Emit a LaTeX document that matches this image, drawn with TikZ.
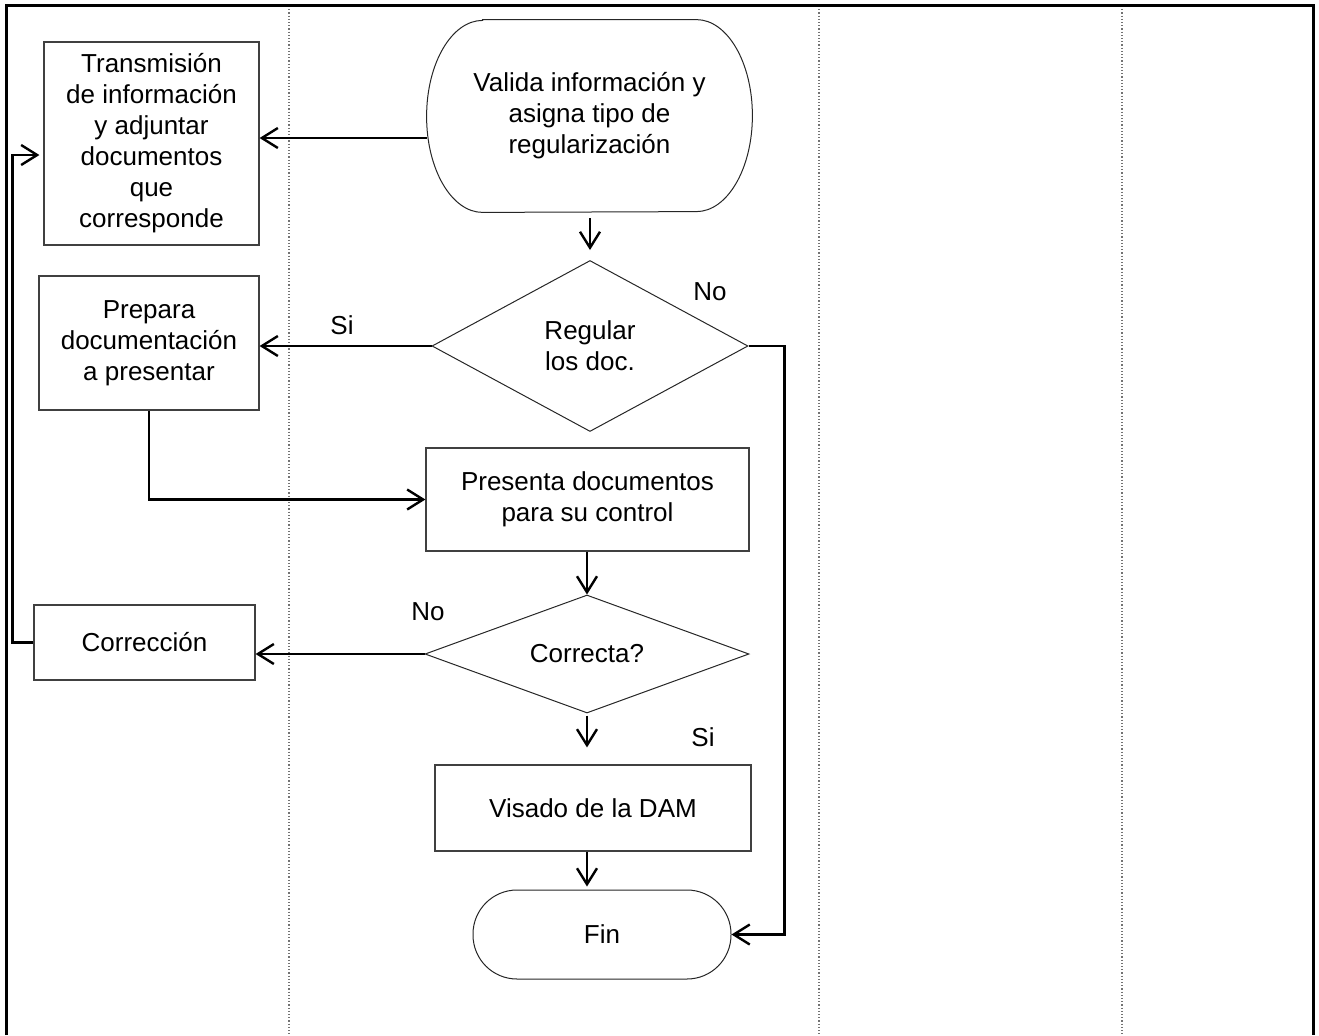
\documentclass[tikz,border=0pt]{standalone}
\usepackage{fontspec}
\setmainfont{Liberation Sans}
\usetikzlibrary{arrows.meta,shapes.geometric,calc}
\begin{document}
\begin{tikzpicture}[x=0.5pt,y=-0.5pt,
  font=\fontsize{13pt}{15.5pt}\selectfont,
  box/.style={draw=black!75, line width=0.6pt, align=center, inner sep=0pt},
  dec/.style={diamond, draw=black!85, line width=0.5pt, align=center, inner sep=0pt},
  term/.style={draw=black!85, line width=0.5pt},
  flow/.style={line width=1.2pt, -{Straight Barb[length=8pt,width=10pt,line width=1.2pt]}},
  lane/.style={densely dotted, line width=0.6pt, black!55},
  lbl/.style={inner sep=0pt}]
\useasboundingbox (0,0) rectangle (1319,1035);
% lanes
\draw[lane] (289,6) -- (289,1035);
\draw[lane] (819,6) -- (819,1035);
\draw[lane] (1122,6) -- (1122,1035);
% frame
\draw[line width=1.5pt] (6,1035) -- (6,5) -- (1313,5) -- (1313,1035);
% nodes
\node[box, minimum width=107.5pt, minimum height=101.5pt] (trans) at (151.5,143.5)
  {Transmisión\\de información\\y adjuntar\\documentos\\que\\corresponde};
\node[minimum width=162.5pt, minimum height=96pt, align=center, inner sep=0pt] (valida) at (589.5,116)
  {Valida información y\\asigna tipo de\\regularización};
\draw[term] ($(valida.north west)+(28pt,0)$) -- ($(valida.north east)+(-28pt,0)$)
  arc[start angle=90,end angle=-90,x radius=28pt,y radius=48pt]
  -- ($(valida.south west)+(28pt,0)$)
  arc[start angle=270,end angle=90,x radius=28pt,y radius=48pt] -- cycle;
\node[dec, aspect=1.85, minimum width=158pt, minimum height=85.5pt] (reg) at (590,346) {Regular\\los doc.};
\node[box, minimum width=110pt, minimum height=67pt] (prep) at (149,343) {Prepara\\documentación\\a presentar};
\node[box, minimum width=161.5pt, minimum height=51.5pt] (pres) at (587.5,499.5) {Presenta documentos\\para su control};
\node[dec, aspect=2.75, minimum width=162pt, minimum height=59pt] (corr) at (587,654) {Correcta?};
\node[box, minimum width=110.5pt, minimum height=37.5pt] (fix) at (144.5,642.5) {Corrección};
\node[box, minimum width=158pt, minimum height=43pt] (vis) at (593,808) {Visado de la DAM};
\node[term, rounded corners=22pt, minimum width=129pt, minimum height=44.5pt] (fin) at (602,934.5) {Fin};
% labels
\node[lbl] (no1) at (710,292) {No};
\node[lbl] (si1) at (342,325) {Si};
\node[lbl] (no2) at (428,612) {No};
\node[lbl] (si2) at (703,737) {Si};
% connectors
\coordinate (a1) at ($(valida.west)+(0,22)$);
\draw[flow] (a1) -- (a1 -| trans.east);
\draw[flow, shorten <=3pt, shorten >=5pt] (valida.south -| reg.north) -- (reg.north);
\draw[flow] (reg.west) -- (reg.west -| prep.east);
\draw[flow] (reg.east) -- ++(36,0) |- (fin.east);
\draw[flow] (prep.south) |- (pres.west);
\draw[flow] (pres.south -| corr.north) -- (corr.north);
\draw[flow] (corr.west) -- (corr.west -| fix.east);
\draw[flow, shorten <=1pt, shorten >=8.5pt] (corr.south) -- (corr.south |- vis.north);
\draw[flow, shorten >=1.5pt] (corr.south |- vis.south) -- (corr.south |- fin.north);
\draw[flow, shorten >=2pt] (fix.west) -- ++(-21,0) |- ([yshift=-5.75pt]trans.west);
\end{tikzpicture}
\end{document}
